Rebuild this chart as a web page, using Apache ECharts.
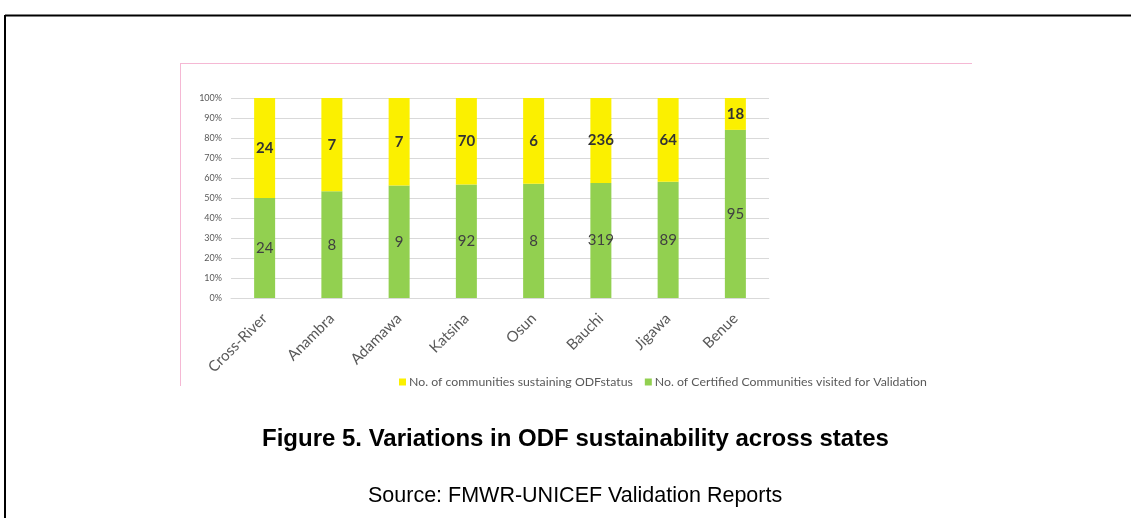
<!DOCTYPE html>
<html>
<head>
<meta charset="utf-8">
<script src="https://cdn.jsdelivr.net/npm/echarts@6/dist/echarts.min.js"></script>
<style>
  html, body { margin: 0; padding: 0; background: #fff; }
  #echar { width: 1131px; height: 518px; }
</style>
</head>
<body>
<div id="echar"></div>
<script>
var states = ["Cross-River", "Anambra", "Adamawa", "Katsina", "Osun", "Bauchi", "Jigawa", "Benue"];
var certified = [24, 8, 9, 92, 8, 319, 89, 95];
var sustaining = [24, 7, 7, 70, 6, 236, 64, 18];
var yTicks = ["0%", "10%", "20%", "30%", "40%", "50%", "60%", "70%", "80%", "90%", "100%"];

// 100% stacked: each bar is shown as a share of its own total
function share(part, i) {
  return part[i] / (certified[i] + sustaining[i]) * 100;
}

var mychart = echarts.init(document.getElementById("echar"));
var option = {
  animation: false,
  grid: { left: 231, right: 362, top: 98, bottom: 220 },
  legend: {
    left: 394,
    top: 371,
    itemWidth: 7,
    itemHeight: 7,
    itemGap: 12,
    icon: "rect",
    textStyle: { fontFamily: "Lato", fontSize: 12.3, color: "#595959", padding: [0, 0, 0, -2] },
    data: ["No. of communities sustaining ODFstatus", "No. of Certified Communities visited for Validation"]
  },
  xAxis: {
    type: "category",
    data: states,
    axisLine: { lineStyle: { color: "#d9d9d9" } },
    axisTick: { show: false },
    axisLabel: { rotate: 45, fontFamily: "Lato", fontSize: 15, color: "#595959", margin: 18 }
  },
  yAxis: {
    type: "value",
    min: 0,
    max: 100,
    interval: 10,
    axisLine: { show: false },
    axisTick: { show: false },
    splitLine: { lineStyle: { color: "#d9d9d9", width: 1 } },
    axisLabel: {
      fontFamily: "Lato", fontSize: 9, color: "#595959", margin: 9,
      formatter: function (v) { return yTicks[Math.round(v / 10)]; }
    }
  },
  series: [
    {
      name: "No. of Certified Communities visited for Validation",
      type: "bar",
      stack: "total",
      barWidth: 21,
      itemStyle: { color: "#92d050" },
      label: {
        show: true, position: "inside", fontFamily: "Lato", fontSize: 15, color: "#404040",
        formatter: function (p) { return certified[p.dataIndex]; }
      },
      data: states.map(function (s, i) { return share(certified, i); })
    },
    {
      name: "No. of communities sustaining ODFstatus",
      type: "bar",
      stack: "total",
      barWidth: 21,
      itemStyle: { color: "#fbf000" },
      label: {
        show: true, position: "inside", fontFamily: "Lato", fontSize: 15, fontWeight: "bold", color: "#333333",
        formatter: function (p) { return sustaining[p.dataIndex]; }
      },
      data: states.map(function (s, i) { return share(sustaining, i); })
    }
  ],
  graphic: [
    { type: "line", shape: { x1: 5, y1: 15.5, x2: 1131, y2: 15.5 }, style: { stroke: "#000", lineWidth: 2 } },
    { type: "line", shape: { x1: 5, y1: 15, x2: 5, y2: 518 }, style: { stroke: "#000", lineWidth: 2 } },
    { type: "line", shape: { x1: 180, y1: 63.5, x2: 972, y2: 63.5 }, style: { stroke: "#f5b8d4", lineWidth: 1 } },
    { type: "line", shape: { x1: 180.5, y1: 63, x2: 180.5, y2: 386 }, style: { stroke: "#f5b8d4", lineWidth: 1 } },
    {
      type: "text", left: 262, top: 427,
      style: { text: "Figure 5. Variations in ODF sustainability across states", font: "bold 24px 'Liberation Sans', Arial", fill: "#000" }
    },
    {
      type: "text", left: 368, top: 485,
      style: { text: "Source: FMWR-UNICEF Validation Reports", font: "21.5px 'Liberation Sans', Arial", fill: "#000" }
    }
  ]
};
mychart.setOption(option);
</script>
</body>
</html>
